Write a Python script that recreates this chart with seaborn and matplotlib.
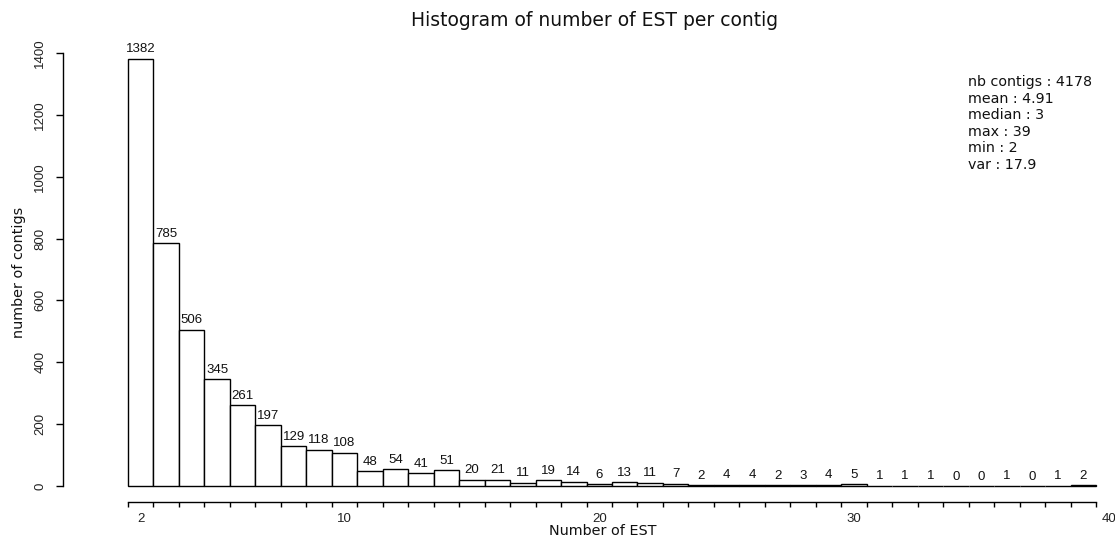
import numpy as np
import pandas as pd
import matplotlib
matplotlib.use("Agg")
import matplotlib.pyplot as plt
import seaborn as sns

# number of EST per contig -> number of contigs
est_per_contig = list(range(2, 40))
nb_contigs = [1382, 785, 506, 345, 261, 197, 129, 118, 108, 48,
              54, 41, 51, 20, 21, 11, 19, 14, 6, 13,
              11, 7, 2, 4, 4, 2, 3, 4, 5, 1,
              1, 1, 0, 0, 1, 0, 1, 2]
x_tick_labels = [2, 10, 20, 30, 40]
y_ticks = [0, 200, 400, 600, 800, 1000, 1200, 1400]
stats_lines = ["nb contigs : 4178", "mean : 4.91", "median : 3",
               "max : 39", "min : 2", "var : 17.9"]

sns.set_style("ticks")
plt.rcParams['font.family'] = ['DejaVu Sans']

W, H = 1115, 541
fig = plt.figure(figsize=(W / 100, H / 100), dpi=100)

# axes box in pixels (left spine at 63, bottom spine at 502)
ax_left, ax_right, ax_top, ax_bottom = 63, 1113, 40, 502
ax = fig.add_axes([ax_left / W, (H - ax_bottom) / H,
                   (ax_right - ax_left) / W, (ax_bottom - ax_top) / H])

df = pd.DataFrame({"est": est_per_contig, "count": nb_contigs})
sns.histplot(data=df, x="est", weights="count", discrete=True, ax=ax,
             stat="count", element="bars", fill=True,
             facecolor="white", edgecolor="black", linewidth=1.0, alpha=1)

# value labels above bars
tick_font = "Liberation Sans"
for xv, c in zip(est_per_contig, nb_contigs):
    ax.annotate(str(c), (xv, c), xytext=(0, 2.5), textcoords="offset points",
                ha="center", va="bottom", fontsize=9.5, family=tick_font,
                color="#111111")

# limits matched to pixel geometry
kx = (1096 - 128) / 38.0
ky = (486 - 53) / 1400.0
ax.set_xlim(1.5 - (128 - ax_left) / kx, 1.5 + (ax_right - 128) / kx)
ax.set_ylim(-(ax_bottom - 486) / ky, (486 - ax_top) / ky)

sns.despine(ax=ax)
ax.spines["left"].set_bounds(0, 1400)
ax.spines["bottom"].set_bounds(1.5, 39.5)
for s in ("left", "bottom"):
    ax.spines[s].set_linewidth(1.0)
    ax.spines[s].set_color("black")

ax.set_xticks(x_tick_labels)
ax.set_xticklabels([str(v) for v in x_tick_labels])
ax.set_xticks(np.arange(1.5, 40, 1.0), minor=True)
ax.tick_params(axis="x", which="major", length=0, pad=8, labelsize=9.5)
ax.tick_params(axis="x", which="minor", length=3.6, width=1.0, color="black")

ax.set_yticks(y_ticks)
ax.set_yticklabels([str(v) for v in y_ticks], rotation=90, va="center")
ax.tick_params(axis="y", which="major", length=5, width=1.0, pad=7, labelsize=9.5,
               color="black")
for lab in ax.get_xticklabels() + ax.get_yticklabels():
    lab.set_family(tick_font)
    lab.set_color("#222222")

ax.set_xlabel("")
ax.set_ylabel("")

fig.text(595 / W, 1 - 20 / H, "Histogram of number of EST per contig",
         ha="center", va="center", fontsize=13.5, color="#111111")
fig.text(603 / W, 1 - 531 / H, "Number of EST", ha="center", va="center",
         fontsize=10.4, color="#111111")
fig.text(19 / W, 1 - 272 / H, "number of contigs", ha="center", va="center",
         rotation=90, fontsize=10.4, color="#111111")
fig.text(968 / W, 1 - 75 / H, "\n".join(stats_lines), ha="left", va="top",
         fontsize=10.3, linespacing=1.23, color="#111111")

fig.savefig("out.png", dpi=100)
